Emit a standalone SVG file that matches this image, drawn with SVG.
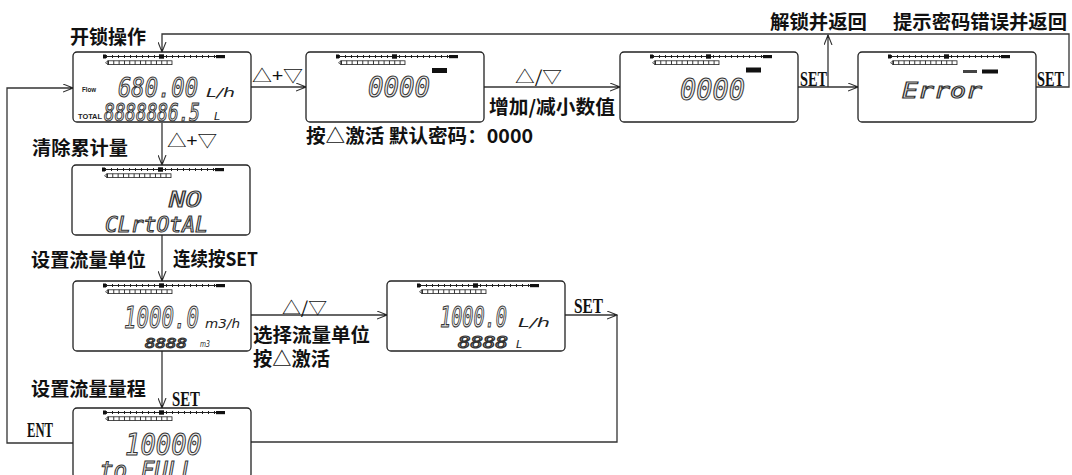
<svg xmlns="http://www.w3.org/2000/svg" xmlns:xlink="http://www.w3.org/1999/xlink" width="1072" height="475" viewBox="0 0 1072 475">
<style>
.box{fill:#fff;stroke:#222;stroke-width:1.3}
.ln{fill:none;stroke:#333;stroke-width:1.3}
.cj{font-family:"Noto Sans CJK SC",sans-serif;font-weight:700;font-size:19px;fill:#111}
.en{font-family:"Liberation Serif","Noto Sans CJK SC",serif;font-weight:700;font-size:20px;fill:#111}
.sym{font-family:"Noto Sans CJK SC",sans-serif;font-weight:400;font-size:17px;fill:#111}
.seg{font-family:"DejaVu Sans Mono",monospace;font-style:italic;fill:#ececec;stroke:#333;stroke-width:1.1}
.unit{font-family:"DejaVu Sans",sans-serif;font-style:italic;fill:#222}
.tiny{font-family:"Liberation Sans",sans-serif;font-weight:700;fill:#222}
</style>
<defs>
<marker id="ar" markerWidth="11" markerHeight="9" refX="10" refY="4.5" orient="auto" markerUnits="userSpaceOnUse">
<path d="M0,0.5 L10,4.5 L0,8.5" fill="none" stroke="#333" stroke-width="1.1"/>
<path d="M7,3.3 L10,4.5 L7,5.7 Z" fill="#222"/>
</marker>
<g id="lcd">
<rect class="box" x="0" y="0" width="178" height="70" rx="4"/>
<line x1="31" y1="4.5" x2="150" y2="4.5" stroke="#222" stroke-width="1"/>
<line x1="33" y1="4.5" x2="143" y2="4.5" stroke="#222" stroke-width="3" stroke-dasharray="1 5"/>
<rect x="30" y="2.5" width="3" height="4" fill="#111"/>
<rect x="86" y="2.3" width="5" height="4.4" fill="#111"/>
<rect x="143" y="3" width="9" height="3.2" fill="#111"/>
<path d="M32.5,10.7 L35,8.8 L35,12.6 Z" fill="#fff" stroke="#222" stroke-width="0.7"/>
<rect x="35" y="8.8" width="64" height="3.8" fill="#fff" stroke="#222" stroke-width="0.8"/>
<line x1="35" y1="10.7" x2="99" y2="10.7" stroke="#222" stroke-width="3.8" stroke-dasharray="0.9 4.43"/>
</g>
</defs>
<rect width="1072" height="475" fill="#fff"/>

<g id="connectors">
<path class="ln" d="M251,87 H306" marker-end="url(#ar)"/>
<path class="ln" d="M484,87 H620" marker-end="url(#ar)"/>
<path class="ln" d="M797,87 H858" marker-end="url(#ar)"/>
<path class="ln" d="M828,87 V35" marker-end="url(#ar)"/>
<path class="ln" d="M1035,87 H1069 V34 H162 V52" marker-end="url(#ar)"/>
<path class="ln" d="M162,123 V165" marker-end="url(#ar)"/>
<path class="ln" d="M162,234 V281" marker-end="url(#ar)"/>
<path class="ln" d="M162,351 V408" marker-end="url(#ar)"/>
<path class="ln" d="M73,443 H7 V88 H73" marker-end="url(#ar)"/>
<path class="ln" d="M251,315 H387" marker-end="url(#ar)"/>
<path class="ln" d="M564,315 H617" marker-end="url(#ar)"/>
<path class="ln" d="M617,315 V442 H251"/>
</g>

<g id="labels">
<text class="cj" x="70" y="44">开锁操作</text>
<text class="sym" x="252" y="82" textLength="51" lengthAdjust="spacingAndGlyphs">△+▽</text>
<text class="sym" x="515" y="83" textLength="47" lengthAdjust="spacingAndGlyphs" font-size="19">△/▽</text>
<text class="cj" x="489" y="114" textLength="126" lengthAdjust="spacingAndGlyphs">增加/减小数值</text>
<text class="cj" x="306" y="143" textLength="227" lengthAdjust="spacingAndGlyphs" font-size="18">按△激活  默认密码：0000</text>
<text class="en" x="800" y="86" textLength="27" lengthAdjust="spacingAndGlyphs">SET</text>
<text class="en" x="1037" y="86" textLength="27" lengthAdjust="spacingAndGlyphs">SET</text>
<text class="cj" x="770" y="29" textLength="97" lengthAdjust="spacingAndGlyphs">解锁并返回</text>
<text class="cj" x="893" y="29" textLength="174" lengthAdjust="spacingAndGlyphs">提示密码错误并返回</text>
<text class="cj" x="32" y="155" textLength="96" lengthAdjust="spacingAndGlyphs">清除累计量</text>
<text class="sym" x="167" y="147" textLength="50" lengthAdjust="spacingAndGlyphs">△+▽</text>
<text class="cj" x="31" y="267" textLength="115" lengthAdjust="spacingAndGlyphs">设置流量单位</text>
<text class="cj" x="173" y="266" textLength="85" lengthAdjust="spacingAndGlyphs">连续按SET</text>
<text class="cj" x="31" y="396" textLength="115" lengthAdjust="spacingAndGlyphs">设置流量量程</text>
<text class="en" x="172" y="406" textLength="28" lengthAdjust="spacingAndGlyphs">SET</text>
<text class="en" x="27" y="437" textLength="26" lengthAdjust="spacingAndGlyphs">ENT</text>
<text class="sym" x="282" y="314" textLength="45" lengthAdjust="spacingAndGlyphs" font-size="19">△/▽</text>
<text class="cj" x="253" y="342" textLength="117" lengthAdjust="spacingAndGlyphs">选择流量单位</text>
<text class="cj" x="253" y="366" textLength="77" lengthAdjust="spacingAndGlyphs">按△激活</text>
<text class="en" x="574" y="313" textLength="29" lengthAdjust="spacingAndGlyphs">SET</text>
</g>

<g id="node-main">
<use xlink:href="#lcd" x="73" y="52"/>
<text class="tiny" x="82" y="92" font-size="6.5" textLength="14" lengthAdjust="spacingAndGlyphs">Flow</text>
<text class="seg" x="118" y="97" font-size="27" textLength="80" lengthAdjust="spacingAndGlyphs">680.00</text>
<text class="unit" x="206" y="97" font-size="13" textLength="29" lengthAdjust="spacingAndGlyphs">L/h</text>
<text class="tiny" x="78" y="119" font-size="7" textLength="24" lengthAdjust="spacingAndGlyphs">TOTAL</text>
<text class="seg" x="104" y="121" font-size="24" textLength="96" lengthAdjust="spacingAndGlyphs">8888886.5</text>
<text class="unit" x="214" y="120" font-size="11" font-style="normal">L</text>
</g>

<g id="node-password">
<use xlink:href="#lcd" x="306" y="52"/>
<rect x="432" y="68" width="15" height="5" fill="#111"/>
<text class="seg" x="368" y="97" font-size="29" textLength="62" lengthAdjust="spacingAndGlyphs">0000</text>
</g>

<g id="node-password-edit">
<use xlink:href="#lcd" x="620" y="52"/>
<rect x="746" y="67.5" width="15" height="5" fill="#111"/>
<text class="seg" x="680" y="100" font-size="30" textLength="65" lengthAdjust="spacingAndGlyphs">0000</text>
</g>

<g id="node-error">
<use xlink:href="#lcd" x="858" y="52"/>
<rect x="963" y="70" width="14" height="3" fill="#444"/>
<rect x="982" y="69.5" width="16" height="4" fill="#111"/>
<text class="seg" x="902" y="98" font-size="21" textLength="80" lengthAdjust="spacingAndGlyphs">Error</text>
</g>

<g id="node-clear-total">
<use xlink:href="#lcd" x="72" y="165"/>
<text class="seg" x="169" y="207" font-size="21" textLength="33" lengthAdjust="spacingAndGlyphs">NO</text>
<text class="seg" x="105" y="232" font-size="21" textLength="103" lengthAdjust="spacingAndGlyphs">CLrtOtAL</text>
</g>

<g id="node-flow-unit">
<use xlink:href="#lcd" x="73" y="281"/>
<text class="seg" x="124" y="328" font-size="31" textLength="75" lengthAdjust="spacingAndGlyphs">1000.0</text>
<text class="unit" x="205" y="328" font-size="12" textLength="35" lengthAdjust="spacingAndGlyphs">m3/h</text>
<text class="seg" x="145" y="348" font-size="14" textLength="42" lengthAdjust="spacingAndGlyphs">8888</text>
<text class="unit" x="200" y="347" font-size="9" textLength="10" lengthAdjust="spacingAndGlyphs">m3</text>
</g>

<g id="node-flow-unit-lh">
<use xlink:href="#lcd" x="387" y="281"/>
<text class="seg" x="440" y="327" font-size="28" textLength="67" lengthAdjust="spacingAndGlyphs">1000.0</text>
<text class="unit" x="518" y="327" font-size="12" textLength="32" lengthAdjust="spacingAndGlyphs">L/h</text>
<text class="seg" x="458" y="348" font-size="15" textLength="50" lengthAdjust="spacingAndGlyphs">8888</text>
<text class="unit" x="516" y="348" font-size="11" font-style="normal">L</text>
</g>

<g id="node-range">
<use xlink:href="#lcd" x="73" y="408"/>
<text class="seg" x="125" y="455" font-size="30" textLength="77" lengthAdjust="spacingAndGlyphs">10000</text>
<text class="seg" x="100" y="479" font-size="25" textLength="95" lengthAdjust="spacingAndGlyphs">to FULL</text>
</g>
</svg>
